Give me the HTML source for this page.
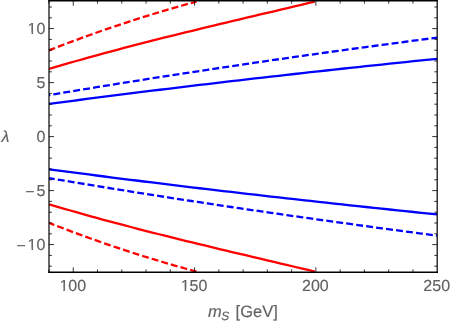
<!DOCTYPE html>
<html><head><meta charset="utf-8"><title>plot</title>
<style>
html,body{margin:0;padding:0;background:#fff;}
svg{display:block;will-change:transform;}
text{font-family:"Liberation Sans",sans-serif;font-size:16px;fill:#626262;stroke:#626262;stroke-width:0.15px;text-rendering:geometricPrecision;}
</style></head>
<body>
<svg width="452" height="323" viewBox="0 0 452 323">
<rect width="452" height="323" fill="#fff"/>
<defs><clipPath id="c"><rect x="49.0" y="0.75" width="388.20" height="271.55"/></clipPath></defs>
<g clip-path="url(#c)" fill="none" stroke-width="2.3">
<path d="M49.00,103.91 L56.92,102.86 L64.84,101.81 L72.77,100.78 L80.69,99.75 L88.61,98.72 L96.53,97.70 L104.46,96.69 L112.38,95.68 L120.30,94.68 L128.22,93.68 L136.15,92.69 L144.07,91.70 L151.99,90.72 L159.91,89.75 L167.84,88.78 L175.76,87.82 L183.68,86.86 L191.60,85.91 L199.53,84.96 L207.45,84.02 L215.37,83.08 L223.29,82.15 L231.22,81.23 L239.14,80.30 L247.06,79.39 L254.98,78.48 L262.91,77.57 L270.83,76.67 L278.75,75.77 L286.67,74.88 L294.60,73.99 L302.52,73.11 L310.44,72.23 L318.36,71.36 L326.29,70.49 L334.21,69.62 L342.13,68.76 L350.05,67.91 L357.98,67.06 L365.90,66.21 L373.82,65.37 L381.74,64.53 L389.67,63.69 L397.59,62.86 L405.51,62.04 L413.43,61.21 L421.36,60.40 L429.28,59.58 L437.20,58.77" stroke="#0000ff"/>
<path d="M49.00,169.29 L56.92,170.34 L64.84,171.39 L72.77,172.42 L80.69,173.45 L88.61,174.48 L96.53,175.50 L104.46,176.51 L112.38,177.52 L120.30,178.52 L128.22,179.52 L136.15,180.51 L144.07,181.50 L151.99,182.48 L159.91,183.45 L167.84,184.42 L175.76,185.38 L183.68,186.34 L191.60,187.29 L199.53,188.24 L207.45,189.18 L215.37,190.12 L223.29,191.05 L231.22,191.97 L239.14,192.90 L247.06,193.81 L254.98,194.72 L262.91,195.63 L270.83,196.53 L278.75,197.43 L286.67,198.32 L294.60,199.21 L302.52,200.09 L310.44,200.97 L318.36,201.84 L326.29,202.71 L334.21,203.58 L342.13,204.44 L350.05,205.29 L357.98,206.14 L365.90,206.99 L373.82,207.83 L381.74,208.67 L389.67,209.51 L397.59,210.34 L405.51,211.16 L413.43,211.99 L421.36,212.80 L429.28,213.62 L437.20,214.43" stroke="#0000ff"/>
<path d="M49.00,95.12 L56.92,93.78 L64.84,92.46 L72.77,91.14 L80.69,89.83 L88.61,88.52 L96.53,87.22 L104.46,85.93 L112.38,84.65 L120.30,83.37 L128.22,82.10 L136.15,80.84 L144.07,79.58 L151.99,78.33 L159.91,77.09 L167.84,75.85 L175.76,74.62 L183.68,73.40 L191.60,72.19 L199.53,70.98 L207.45,69.78 L215.37,68.58 L223.29,67.39 L231.22,66.21 L239.14,65.03 L247.06,63.86 L254.98,62.70 L262.91,61.54 L270.83,60.39 L278.75,59.24 L286.67,58.11 L294.60,56.97 L302.52,55.85 L310.44,54.73 L318.36,53.61 L326.29,52.51 L334.21,51.40 L342.13,50.31 L350.05,49.22 L357.98,48.14 L365.90,47.06 L373.82,45.99 L381.74,44.92 L389.67,43.86 L397.59,42.80 L405.51,41.75 L413.43,40.71 L421.36,39.67 L429.28,38.64 L437.20,37.61" stroke="#0000ff" stroke-dasharray="6.95 3.11" stroke-dashoffset="5.65"/>
<path d="M49.00,178.08 L56.92,179.42 L64.84,180.74 L72.77,182.06 L80.69,183.37 L88.61,184.68 L96.53,185.98 L104.46,187.27 L112.38,188.55 L120.30,189.83 L128.22,191.10 L136.15,192.36 L144.07,193.62 L151.99,194.87 L159.91,196.11 L167.84,197.35 L175.76,198.58 L183.68,199.80 L191.60,201.01 L199.53,202.22 L207.45,203.42 L215.37,204.62 L223.29,205.81 L231.22,206.99 L239.14,208.17 L247.06,209.34 L254.98,210.50 L262.91,211.66 L270.83,212.81 L278.75,213.96 L286.67,215.09 L294.60,216.23 L302.52,217.35 L310.44,218.47 L318.36,219.59 L326.29,220.69 L334.21,221.80 L342.13,222.89 L350.05,223.98 L357.98,225.06 L365.90,226.14 L373.82,227.21 L381.74,228.28 L389.67,229.34 L397.59,230.40 L405.51,231.45 L413.43,232.49 L421.36,233.53 L429.28,234.56 L437.20,235.59" stroke="#0000ff" stroke-dasharray="6.95 3.11" stroke-dashoffset="1.15"/>
<path d="M49.00,68.93 L55.82,66.91 L62.63,64.92 L69.45,62.95 L76.27,61.00 L83.08,59.08 L89.90,57.17 L96.72,55.29 L103.53,53.43 L110.35,51.59 L117.17,49.77 L123.98,47.97 L130.80,46.19 L137.62,44.42 L144.43,42.66 L151.25,40.93 L158.07,39.20 L164.88,37.49 L171.70,35.79 L178.52,34.11 L185.33,32.43 L192.15,30.77 L198.97,29.11 L205.78,27.46 L212.60,25.82 L219.42,24.19 L226.23,22.56 L233.05,20.94 L239.87,19.33 L246.68,17.71 L253.50,16.10 L260.32,14.49 L267.13,12.89 L273.95,11.28 L280.77,9.67 L287.58,8.06 L294.40,6.45 L301.21,4.84 L308.03,3.22 L314.85,1.60" stroke="#ff0000"/>
<path d="M49.00,204.27 L55.82,206.29 L62.63,208.28 L69.45,210.25 L76.27,212.20 L83.08,214.12 L89.90,216.03 L96.72,217.91 L103.53,219.77 L110.35,221.61 L117.17,223.43 L123.98,225.23 L130.80,227.01 L137.62,228.78 L144.43,230.54 L151.25,232.27 L158.07,234.00 L164.88,235.71 L171.70,237.41 L178.52,239.09 L185.33,240.77 L192.15,242.43 L198.97,244.09 L205.78,245.74 L212.60,247.38 L219.42,249.01 L226.23,250.64 L233.05,252.26 L239.87,253.87 L246.68,255.49 L253.50,257.10 L260.32,258.71 L267.13,260.31 L273.95,261.92 L280.77,263.53 L287.58,265.14 L294.40,266.75 L301.21,268.36 L308.03,269.98 L314.85,271.60" stroke="#ff0000"/>
<path d="M49.00,50.32 L52.78,48.84 L56.57,47.37 L60.35,45.92 L64.13,44.48 L67.91,43.04 L71.70,41.63 L75.48,40.22 L79.26,38.83 L83.05,37.44 L86.83,36.07 L90.61,34.72 L94.40,33.37 L98.18,32.04 L101.96,30.71 L105.74,29.40 L109.53,28.11 L113.31,26.82 L117.09,25.55 L120.88,24.29 L124.66,23.04 L128.44,21.80 L132.22,20.58 L136.01,19.36 L139.79,18.16 L143.57,16.97 L147.36,15.80 L151.14,14.63 L154.92,13.48 L158.71,12.34 L162.49,11.21 L166.27,10.09 L170.05,8.99 L173.84,7.90 L177.62,6.82 L181.40,5.75 L185.19,4.69 L188.97,3.65 L192.75,2.62 L196.53,1.60" stroke="#ff0000" stroke-dasharray="6.9 3.1" stroke-dashoffset="0.45"/>
<path d="M49.00,222.88 L52.78,224.36 L56.57,225.83 L60.35,227.28 L64.13,228.72 L67.91,230.16 L71.70,231.57 L75.48,232.98 L79.26,234.37 L83.05,235.76 L86.83,237.13 L90.61,238.48 L94.40,239.83 L98.18,241.16 L101.96,242.49 L105.74,243.80 L109.53,245.09 L113.31,246.38 L117.09,247.65 L120.88,248.91 L124.66,250.16 L128.44,251.40 L132.22,252.62 L136.01,253.84 L139.79,255.04 L143.57,256.23 L147.36,257.40 L151.14,258.57 L154.92,259.72 L158.71,260.86 L162.49,261.99 L166.27,263.11 L170.05,264.21 L173.84,265.30 L177.62,266.38 L181.40,267.45 L185.19,268.51 L188.97,269.55 L192.75,270.58 L196.53,271.60" stroke="#ff0000" stroke-dasharray="6.9 3.1" stroke-dashoffset="1.2"/>
</g>
<g stroke="#000" stroke-width="0.8">
<line x1="49.00" y1="272.3" x2="49.00" y2="269.40"/>
<line x1="49.00" y1="0.75" x2="49.00" y2="3.65"/>
<line x1="73.26" y1="272.3" x2="73.26" y2="267.30"/>
<line x1="73.26" y1="0.75" x2="73.26" y2="5.75"/>
<line x1="97.53" y1="272.3" x2="97.53" y2="269.40"/>
<line x1="97.53" y1="0.75" x2="97.53" y2="3.65"/>
<line x1="121.79" y1="272.3" x2="121.79" y2="269.40"/>
<line x1="121.79" y1="0.75" x2="121.79" y2="3.65"/>
<line x1="146.05" y1="272.3" x2="146.05" y2="269.40"/>
<line x1="146.05" y1="0.75" x2="146.05" y2="3.65"/>
<line x1="170.31" y1="272.3" x2="170.31" y2="269.40"/>
<line x1="170.31" y1="0.75" x2="170.31" y2="3.65"/>
<line x1="194.57" y1="272.3" x2="194.57" y2="267.30"/>
<line x1="194.57" y1="0.75" x2="194.57" y2="5.75"/>
<line x1="218.84" y1="272.3" x2="218.84" y2="269.40"/>
<line x1="218.84" y1="0.75" x2="218.84" y2="3.65"/>
<line x1="243.10" y1="272.3" x2="243.10" y2="269.40"/>
<line x1="243.10" y1="0.75" x2="243.10" y2="3.65"/>
<line x1="267.36" y1="272.3" x2="267.36" y2="269.40"/>
<line x1="267.36" y1="0.75" x2="267.36" y2="3.65"/>
<line x1="291.62" y1="272.3" x2="291.62" y2="269.40"/>
<line x1="291.62" y1="0.75" x2="291.62" y2="3.65"/>
<line x1="315.89" y1="272.3" x2="315.89" y2="267.30"/>
<line x1="315.89" y1="0.75" x2="315.89" y2="5.75"/>
<line x1="340.15" y1="272.3" x2="340.15" y2="269.40"/>
<line x1="340.15" y1="0.75" x2="340.15" y2="3.65"/>
<line x1="364.41" y1="272.3" x2="364.41" y2="269.40"/>
<line x1="364.41" y1="0.75" x2="364.41" y2="3.65"/>
<line x1="388.68" y1="272.3" x2="388.68" y2="269.40"/>
<line x1="388.68" y1="0.75" x2="388.68" y2="3.65"/>
<line x1="412.94" y1="272.3" x2="412.94" y2="269.40"/>
<line x1="412.94" y1="0.75" x2="412.94" y2="3.65"/>
<line x1="49.0" y1="266.20" x2="51.90" y2="266.20"/>
<line x1="437.2" y1="266.20" x2="434.30" y2="266.20"/>
<line x1="49.0" y1="255.40" x2="51.90" y2="255.40"/>
<line x1="437.2" y1="255.40" x2="434.30" y2="255.40"/>
<line x1="49.0" y1="244.60" x2="54.00" y2="244.60"/>
<line x1="437.2" y1="244.60" x2="432.20" y2="244.60"/>
<line x1="49.0" y1="233.80" x2="51.90" y2="233.80"/>
<line x1="437.2" y1="233.80" x2="434.30" y2="233.80"/>
<line x1="49.0" y1="223.00" x2="51.90" y2="223.00"/>
<line x1="437.2" y1="223.00" x2="434.30" y2="223.00"/>
<line x1="49.0" y1="212.20" x2="51.90" y2="212.20"/>
<line x1="437.2" y1="212.20" x2="434.30" y2="212.20"/>
<line x1="49.0" y1="201.40" x2="51.90" y2="201.40"/>
<line x1="437.2" y1="201.40" x2="434.30" y2="201.40"/>
<line x1="49.0" y1="190.60" x2="54.00" y2="190.60"/>
<line x1="437.2" y1="190.60" x2="432.20" y2="190.60"/>
<line x1="49.0" y1="179.80" x2="51.90" y2="179.80"/>
<line x1="437.2" y1="179.80" x2="434.30" y2="179.80"/>
<line x1="49.0" y1="169.00" x2="51.90" y2="169.00"/>
<line x1="437.2" y1="169.00" x2="434.30" y2="169.00"/>
<line x1="49.0" y1="158.20" x2="51.90" y2="158.20"/>
<line x1="437.2" y1="158.20" x2="434.30" y2="158.20"/>
<line x1="49.0" y1="147.40" x2="51.90" y2="147.40"/>
<line x1="437.2" y1="147.40" x2="434.30" y2="147.40"/>
<line x1="49.0" y1="136.60" x2="54.00" y2="136.60"/>
<line x1="437.2" y1="136.60" x2="432.20" y2="136.60"/>
<line x1="49.0" y1="125.80" x2="51.90" y2="125.80"/>
<line x1="437.2" y1="125.80" x2="434.30" y2="125.80"/>
<line x1="49.0" y1="115.00" x2="51.90" y2="115.00"/>
<line x1="437.2" y1="115.00" x2="434.30" y2="115.00"/>
<line x1="49.0" y1="104.20" x2="51.90" y2="104.20"/>
<line x1="437.2" y1="104.20" x2="434.30" y2="104.20"/>
<line x1="49.0" y1="93.40" x2="51.90" y2="93.40"/>
<line x1="437.2" y1="93.40" x2="434.30" y2="93.40"/>
<line x1="49.0" y1="82.60" x2="54.00" y2="82.60"/>
<line x1="437.2" y1="82.60" x2="432.20" y2="82.60"/>
<line x1="49.0" y1="71.80" x2="51.90" y2="71.80"/>
<line x1="437.2" y1="71.80" x2="434.30" y2="71.80"/>
<line x1="49.0" y1="61.00" x2="51.90" y2="61.00"/>
<line x1="437.2" y1="61.00" x2="434.30" y2="61.00"/>
<line x1="49.0" y1="50.20" x2="51.90" y2="50.20"/>
<line x1="437.2" y1="50.20" x2="434.30" y2="50.20"/>
<line x1="49.0" y1="39.40" x2="51.90" y2="39.40"/>
<line x1="437.2" y1="39.40" x2="434.30" y2="39.40"/>
<line x1="49.0" y1="28.60" x2="54.00" y2="28.60"/>
<line x1="437.2" y1="28.60" x2="432.20" y2="28.60"/>
<line x1="49.0" y1="17.80" x2="51.90" y2="17.80"/>
<line x1="437.2" y1="17.80" x2="434.30" y2="17.80"/>
<line x1="49.0" y1="7.00" x2="51.90" y2="7.00"/>
<line x1="437.2" y1="7.00" x2="434.30" y2="7.00"/>
</g>
<g stroke="#000" stroke-linecap="square">
<line x1="49.0" y1="0.75" x2="437.2" y2="0.75" stroke-width="1.45"/>
<line x1="49.0" y1="272.3" x2="437.2" y2="272.3" stroke-width="1.4"/>
<line x1="49.0" y1="0.75" x2="49.0" y2="272.3" stroke-width="1.2"/>
<line x1="437.2" y1="0.75" x2="437.2" y2="272.3" stroke-width="1.2"/>
</g>
<g>
<text x="72.76" y="291" text-anchor="middle">100</text>
<text x="194.07" y="291" text-anchor="middle">150</text>
<text x="315.39" y="291" text-anchor="middle">200</text>
<text x="436.70" y="291" text-anchor="middle">250</text>
<text x="45.4" y="34" text-anchor="end">10</text>
<text x="45.4" y="88" text-anchor="end">5</text>
<text x="45.4" y="142" text-anchor="end">0</text>
<text x="45.4" y="196" text-anchor="end">5</text>
<text x="34.7" y="197" text-anchor="end">−</text>
<text x="45.4" y="250" text-anchor="end">10</text>
<text x="25.8" y="251" text-anchor="end">−</text>
</g>
<g fill="#fff">
<rect x="27.80" y="31.90" width="3.70" height="2.9"/><rect x="33.10" y="31.90" width="2.90" height="2.9"/>
<rect x="27.80" y="247.90" width="3.70" height="2.9"/><rect x="33.10" y="247.90" width="2.90" height="2.9"/>
<rect x="59.61" y="288.90" width="3.70" height="2.9"/><rect x="64.91" y="288.90" width="2.90" height="2.9"/>
<rect x="180.93" y="288.90" width="3.70" height="2.9"/><rect x="186.23" y="288.90" width="2.90" height="2.9"/>
</g>
<text x="1.5" y="142" font-style="italic">λ</text>
<text x="208.0" y="317" style="font-style:italic;font-size:16.5px">m</text>
<text x="221.2" y="320" style="font-style:italic;font-size:12px">S</text>
<text x="235.6" y="317" style="font-size:16.5px">[GeV]</text>
</svg>
</body></html>
